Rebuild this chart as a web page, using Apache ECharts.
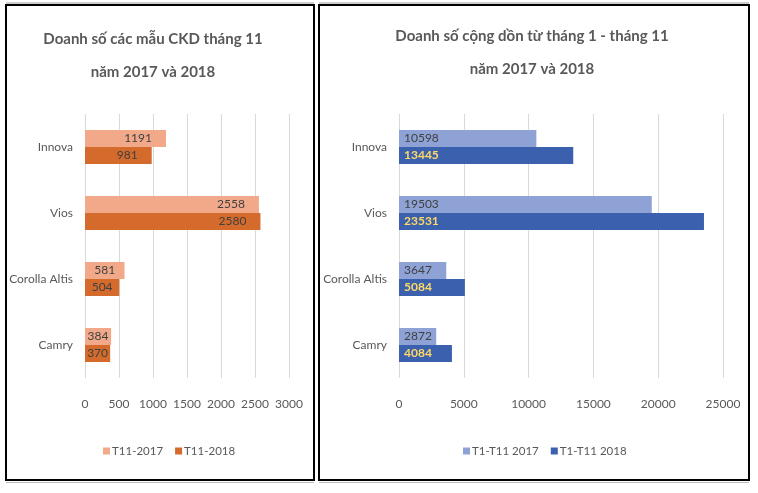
<!DOCTYPE html>
<html>
<head>
<meta charset="utf-8">
<script src="https://cdn.jsdelivr.net/npm/echarts@6/dist/echarts.min.js"></script>
<style>
html,body{margin:0;padding:0;background:#fff;}
#c{width:758px;height:493px;}
</style>
</head>
<body>
<div id="c"></div>
<script>
const categories = ['Innova', 'Vios', 'Corolla Altis', 'Camry'];
const t11_2017 = [1191, 2558, 581, 384];
const t11_2018 = [981, 2580, 504, 370];
const cum_2017 = [10598, 19503, 3647, 2872];
const cum_2018 = [13445, 23531, 5084, 4084];
const leftTicks = { min: 0, max: 3000, interval: 500 };
const rightTicks = { min: 0, max: 25000, interval: 5000 };
const leftTitle = 'Doanh số các mẫu CKD tháng 11\nnăm 2017 và 2018';
const rightTitle = 'Doanh số cộng dồn từ tháng 1 - tháng 11\nnăm 2017 và 2018';
const names = ['T11-2017', 'T11-2018', 'T1-T11 2017', 'T1-T11 2018'];

const FONT = 'Lato, "Liberation Sans", sans-serif';
const txt = '#595959';

const chart = echarts.init(document.getElementById('c'));

function valAxis(idx, t) {
  return {
    type: 'value', gridIndex: idx, min: t.min, max: t.max, interval: t.interval,
    axisLine: { show: false }, axisTick: { show: false },
    splitLine: { lineStyle: { color: '#D9D9D9', width: 1 } },
    axisLabel: { color: txt, fontFamily: FONT, fontSize: 12, margin: 20, formatter: v => String(v) }
  };
}
function catAxis(idx) {
  return {
    type: 'category', gridIndex: idx, data: categories, inverse: true,
    axisLine: { show: false }, axisTick: { show: false },
    axisLabel: { color: txt, fontFamily: FONT, fontSize: 12, margin: 12 }
  };
}
function labelCfg(pos, dist, color, weight) {
  return { show: true, position: pos, distance: dist, color: color,
           fontFamily: FONT, fontSize: 12, fontWeight: weight || 'normal' };
}
// small bars: Excel centres the inside-end label on the bar
function leftData(arr) {
  return arr.map(v => v < 700 ? { value: v, label: { position: 'inside' } } : v);
}

chart.setOption({
  backgroundColor: '#fff',
  animation: false,
  title: [
    { text: leftTitle, left: 148, top: 18, textAlign: 'center',
      textStyle: { fontFamily: FONT, fontSize: 15, fontWeight: 'bold', color: txt, lineHeight: 33, align: 'center' } },
    { text: rightTitle, left: 527, top: 15, textAlign: 'center',
      textStyle: { fontFamily: FONT, fontSize: 15, fontWeight: 'bold', color: txt, lineHeight: 33, align: 'center' } }
  ],
  legend: [
    { data: [names[0], names[1]], left: 98, top: 440, icon: 'rect',
      itemWidth: 7, itemHeight: 7, itemGap: 12,
      textStyle: { color: txt, fontFamily: FONT, fontSize: 11.5, padding: [0, 0, 0, -3] } },
    { data: [names[2], names[3]], left: 458, top: 440, icon: 'rect',
      itemWidth: 7, itemHeight: 7, itemGap: 12,
      textStyle: { color: txt, fontFamily: FONT, fontSize: 11.5, padding: [0, 0, 0, -3] } }
  ],
  grid: [
    { left: 85, width: 204, top: 114, height: 264 },
    { left: 399, width: 324, top: 114, height: 264 }
  ],
  xAxis: [valAxis(0, leftTicks), valAxis(1, rightTicks)],
  yAxis: [catAxis(0), catAxis(1)],
  series: [
    { name: names[0], type: 'bar', xAxisIndex: 0, yAxisIndex: 0, data: leftData(t11_2017), barWidth: 17, barGap: '0%',
      itemStyle: { color: '#F2A98A' }, label: labelCfg('insideRight', 14, '#404040') },
    { name: names[1], type: 'bar', xAxisIndex: 0, yAxisIndex: 0, data: leftData(t11_2018), barWidth: 17, barGap: '0%',
      itemStyle: { color: '#D46B2C' }, label: labelCfg('insideRight', 14, '#404040') },
    { name: names[2], type: 'bar', xAxisIndex: 1, yAxisIndex: 1, data: cum_2017, barWidth: 17, barGap: '0%',
      itemStyle: { color: '#8EA2D6' }, label: labelCfg('insideLeft', 5, '#404040') },
    { name: names[3], type: 'bar', xAxisIndex: 1, yAxisIndex: 1, data: cum_2018, barWidth: 17, barGap: '0%',
      itemStyle: { color: '#3A60AE' }, label: labelCfg('insideLeft', 5, '#FFD966', 'bold') }
  ],
  graphic: [
    { type: 'rect', shape: { x: 6, y: 5, width: 308, height: 475 }, style: { fill: 'none', stroke: '#000', lineWidth: 2 }, z: 100 },
    { type: 'rect', shape: { x: 319, y: 5, width: 430, height: 475 }, style: { fill: 'none', stroke: '#000', lineWidth: 2 }, z: 100 },
    { type: 'line', shape: { x1: 6, y1: 3, x2: 314, y2: 3 }, style: { stroke: '#999', lineWidth: 1 }, z: 99 },
    { type: 'line', shape: { x1: 319, y1: 3, x2: 749, y2: 3 }, style: { stroke: '#999', lineWidth: 1 }, z: 99 },
    { type: 'line', shape: { x1: 6, y1: 482.5, x2: 314, y2: 482.5 }, style: { stroke: '#bbb', lineWidth: 1 }, z: 99 },
    { type: 'line', shape: { x1: 319, y1: 482.5, x2: 749, y2: 482.5 }, style: { stroke: '#bbb', lineWidth: 1 }, z: 99 }
  ]
});
</script>
</body>
</html>
